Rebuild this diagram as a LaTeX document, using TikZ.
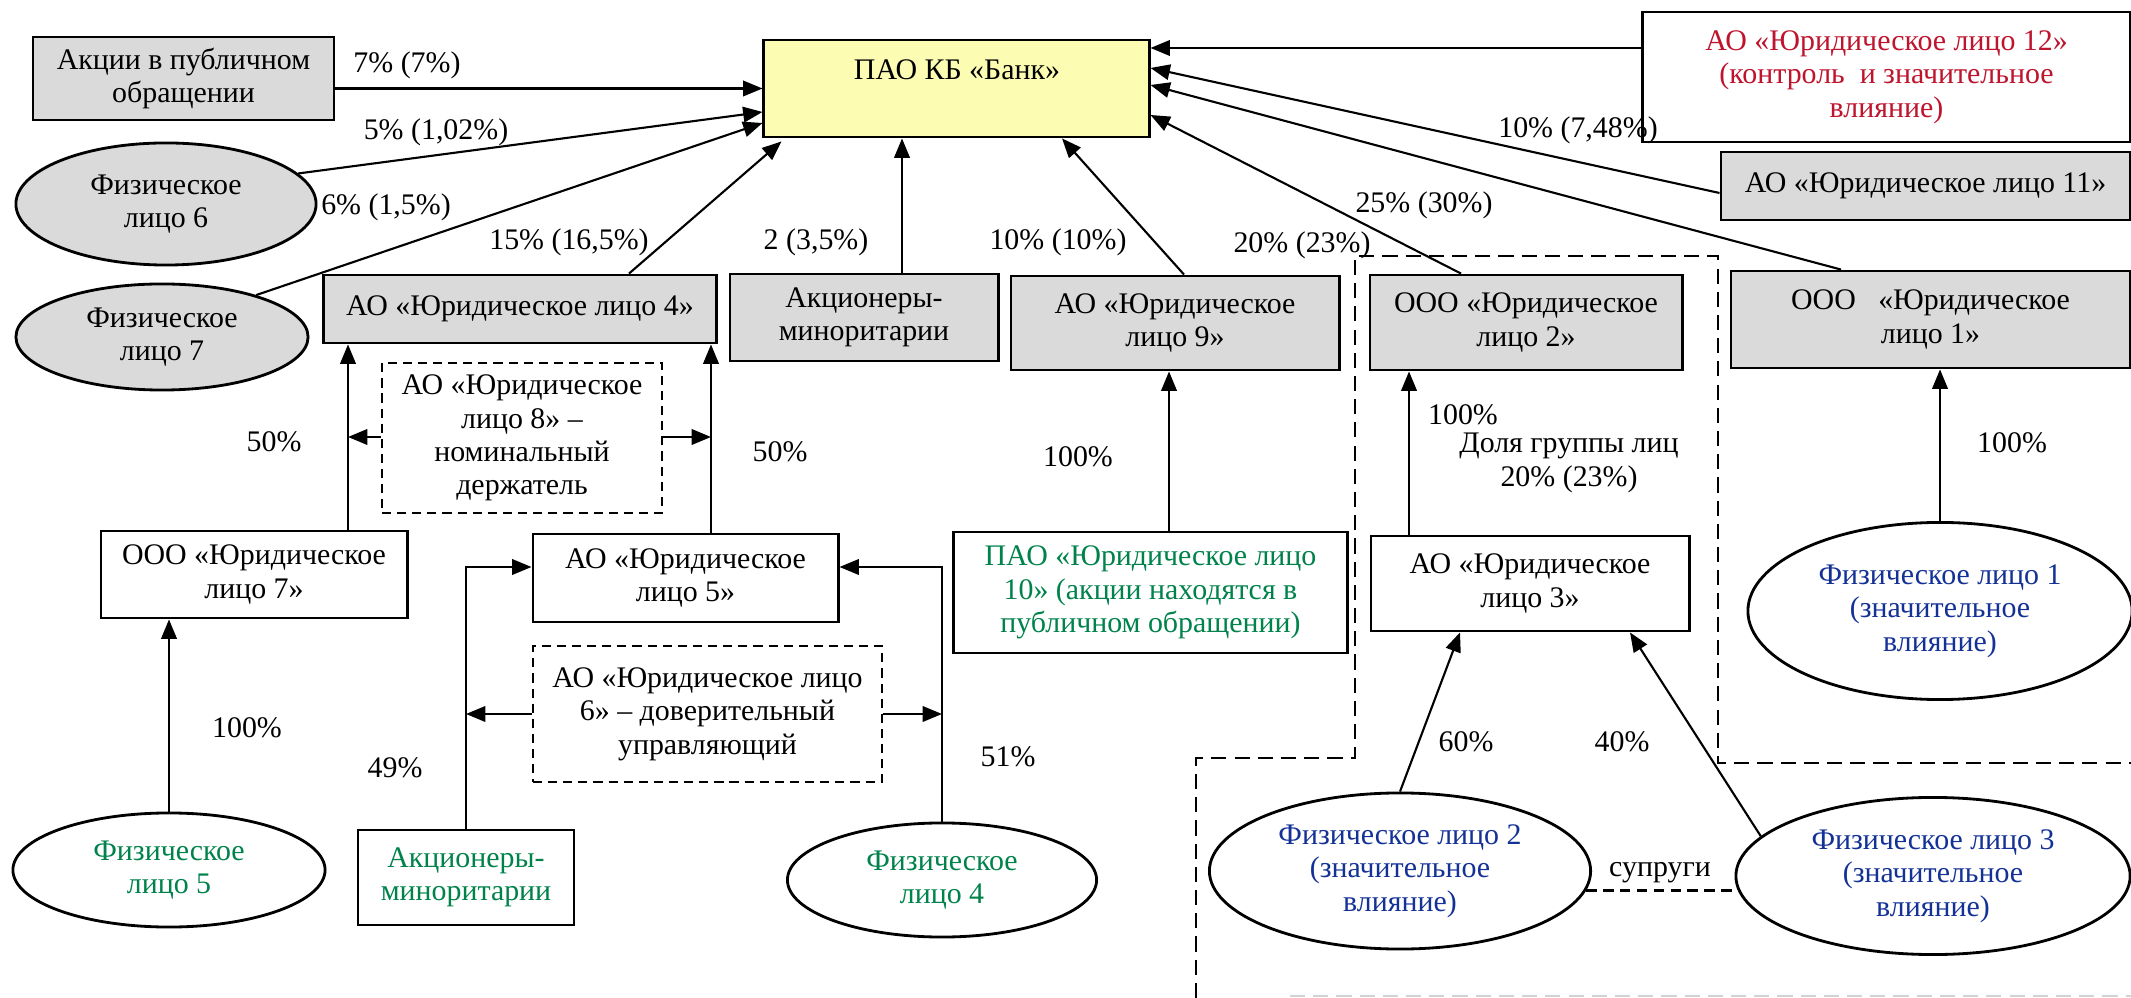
\documentclass[tikz,border=0pt]{standalone}
\usepackage{fontspec}
\setmainfont{Liberation Serif}
\usetikzlibrary{arrows.meta,shapes.geometric}
\definecolor{boxgray}{RGB}{218,218,218}
\definecolor{bankyellow}{RGB}{252,252,178}
\definecolor{txtred}{RGB}{190,20,45}
\definecolor{txtgreen}{RGB}{0,130,75}
\definecolor{txtblue}{RGB}{20,50,150}
\begin{document}
\begin{tikzpicture}[x=0.01cm,y=-0.01cm,
  every node/.style={font=\fontsize{8.5}{9.5}\selectfont, inner sep=1pt},
  gbox/.style={draw, line width=0.8pt, fill=boxgray, rectangle, align=center},
  wbox/.style={draw, line width=0.8pt, fill=white, rectangle, align=center},
  dbox/.style={draw, line width=0.7pt, dash pattern=on 2.6pt off 1.7pt, rectangle, align=center},
  gell/.style={draw, line width=0.8pt, fill=boxgray, ellipse, align=center, inner sep=0pt},
  well/.style={draw, line width=0.8pt, fill=white, ellipse, align=center, inner sep=0pt},
  arr/.style={line width=0.6pt, -{Triangle[length=5.5pt,width=4.4pt]}},
  conn/.style={line width=0.6pt},
  grp/.style={line width=0.7pt, dash pattern=on 4.3pt off 2.3pt},
  lbl/.style={align=center, inner sep=0pt},
]
\fill[white] (0,0) rectangle (2131,998);
\useasboundingbox (0,0) rectangle (2131,998);

% group outline
\draw[grp] (1196,998) -- (1196,758) -- (1355,758) -- (1355,256) -- (1718,256) -- (1718,763) -- (2131,763);
\draw[grp, gray!35] (1290,996) -- (2131,996);

% nodes
\node[gbox, minimum width=3.01cm, minimum height=0.83cm] (akcii) at (183.5,78.5) {Акции в публичном\\обращении};
\node[draw, line width=0.8pt, fill=bankyellow, minimum width=3.85cm, minimum height=0.97cm] (bank) at (956.5,88.5) {};
\node[lbl] (banktxt) at (957,70) {ПАО КБ «Банк»};
\node[wbox, text=txtred, minimum width=4.87cm, minimum height=1.30cm] (ao12) at (1886.5,77) {АО «Юридическое лицо 12»\\(контроль\ \ и значительное\\влияние)};
\node[gell, minimum width=3.0cm, minimum height=1.22cm] (fiz6) at (166,204) {Физическое\\лицо 6};
\node[gell, minimum width=2.92cm, minimum height=1.06cm] (fiz7) at (162,337) {Физическое\\лицо 7};
\node[gbox, minimum width=3.92cm, minimum height=0.68cm] (ao4) at (520,309) {АО «Юридическое лицо 4»};
\node[gbox, minimum width=2.68cm, minimum height=0.87cm] (akc) at (864,317.5) {Акционеры-\\миноритарии};
\node[gbox, minimum width=3.28cm, minimum height=0.94cm] (ao9) at (1175,323) {АО «Юридическое\\лицо 9»};
\node[gbox, minimum width=3.12cm, minimum height=0.95cm] (ooo2) at (1526,322.5) {ООО «Юридическое\\лицо 2»};
\node[gbox, minimum width=3.99cm, minimum height=0.97cm] (ooo1) at (1930.5,319.5) {ООО\ \ \ «Юридическое\\лицо 1»};
\node[gbox, minimum width=4.09cm, minimum height=0.68cm] (ao11) at (1925.5,186) {АО «Юридическое лицо 11»};
\node[dbox, minimum width=2.80cm, minimum height=1.50cm] (ao8) at (522,438) {АО «Юридическое\\лицо 8» –\\номинальный\\держатель};
\node[wbox, minimum width=3.06cm, minimum height=0.87cm] (ooo7) at (254,574.5) {ООО «Юридическое\\лицо 7»};
\node[wbox, minimum width=3.05cm, minimum height=0.88cm] (ao5) at (685.5,578) {АО «Юридическое\\лицо 5»};
\node[wbox, text=txtgreen, minimum width=3.93cm, minimum height=1.21cm] (pao10) at (1150.5,592.5) {ПАО «Юридическое лицо\\10» (акции находятся в\\публичном обращении)};
\node[wbox, minimum width=3.18cm, minimum height=0.95cm] (ao3) at (1530,583.5) {АО «Юридическое\\лицо 3»};
\node[well, text=txtblue, minimum width=3.84cm, minimum height=1.77cm] (fiz1) at (1940,611) {Физическое лицо 1\\(значительное\\влияние)};
\node[dbox, minimum width=3.49cm, minimum height=1.36cm] (ao6) at (707.5,714) {АО «Юридическое лицо\\6» – доверительный\\управляющий};
\node[well, text=txtgreen, minimum width=3.12cm, minimum height=1.14cm] (fiz5) at (169,870) {Физическое\\лицо 5};
\node[wbox, text=txtgreen, minimum width=2.16cm, minimum height=0.95cm] (akc2) at (466,877.5) {Акционеры-\\миноритарии};
\node[well, text=txtgreen, minimum width=3.09cm, minimum height=1.14cm] (fiz4) at (942,880) {Физическое\\лицо 4};
\node[well, text=txtblue, minimum width=3.81cm, minimum height=1.56cm] (fiz2) at (1400,871) {Физическое лицо 2\\(значительное\\влияние)};
\node[well, text=txtblue, minimum width=3.94cm, minimum height=1.57cm] (fiz3) at (1933,876) {Физическое лицо 3\\(значительное\\влияние)};

% junction coordinates
\coordinate (j4l) at (ao4.south -| 348,0);
\coordinate (j4r) at (ao4.south -| 711,0);
\coordinate (j8l) at (348,437);
\coordinate (j8r) at (711,437);
\coordinate (j5l) at (akc2.north |- 0,567);
\coordinate (j5r) at (fiz4.north |- 0,567);
\coordinate (j6l) at (akc2.north |- 0,714);
\coordinate (j6r) at (fiz4.north |- 0,714);

% connectors to bank
\draw[arr] (akcii.east |- bank.west) -- (bank.west);
\draw[arr] (fiz6.13) -- (bank.west |- 0,112);
\draw[arr] (fiz7.24) -- (bank.west |- 0,123);
\draw[arr] (ao4.north -| 629,0) -- ([shift={(19,3)}]bank.south west);
\draw[arr] (akc.north -| 902,0) -- (bank.south -| 902,0);
\draw[arr] (ao9.north -| 1184,0) -- (bank.south -| 1062,0);
\draw[arr] (ooo2.north -| 1461,0) -- (bank.east |- 0,115);
\draw[arr] (ooo1.north -| 1841,0) -- (bank.east |- 0,85);
\draw[arr] (ao11.west |- 0,193) -- (bank.east |- 0,68);
\draw[arr] (ao12.west |- 0,48) -- (bank.east |- 0,48);

% lower connectors
\draw[arr] (ooo7.north -| 348,0) -- (j4l);
\draw[arr] (ao5.north -| 711,0) -- (j4r);
\draw[arr] (ao8.west |- j8l) -- (j8l);
\draw[arr] (ao8.east |- j8r) -- (j8r);
\draw[arr] (fiz5.north) -- (ooo7.south -| fiz5.north);
\draw[arr] (akc2.north) -- (j5l) -- (ao5.west |- j5l);
\draw[arr] (fiz4.north) -- (j5r) -- (ao5.east |- j5r);
\draw[arr] (ao6.west |- j6l) -- (j6l);
\draw[arr] (ao6.east |- j6r) -- (j6r);
\draw[arr] (pao10.north -| 1169,0) -- (ao9.south -| 1169,0);
\draw[arr] (ao3.north -| 1409,0) -- (ooo2.south -| 1409,0);
\draw[arr] (fiz1.north) -- (ooo1.south -| fiz1.north);
\draw[arr] (fiz2.north) -- (ao3.south -| 1460,0);
\draw[arr] (fiz3.167) -- (ao3.south -| 1630,0);
\draw[line width=0.7pt, dash pattern=on 3pt off 1.8pt] (fiz2.-6) -- (fiz2.-6 -| fiz3.west);

% labels
\node[lbl] (t1) at (407,65) {7\% (7\%)};
\node[lbl] (t2) at (436,132) {5\% (1,02\%)};
\node[lbl] (t3) at (386,207) {6\% (1,5\%)};
\node[lbl] (t4) at (569,242) {15\% (16,5\%)};
\node[lbl] (t5) at (816,242) {2 (3,5\%)};
\node[lbl] (t6) at (1058,242) {10\% (10\%)};
\node[lbl] (t7) at (1302,245) {20\% (23\%)};
\node[lbl] (t8) at (1424,205) {25\% (30\%)};
\node[lbl] (t9) at (1578,130) {10\% (7,48\%)};
\node[lbl] (t10) at (274,442) {50\%};
\node[lbl] (t11) at (780,452) {50\%};
\node[lbl] (t12) at (1078,457) {100\%};
\node[lbl] (t13) at (1463,415) {100\%};
\node[lbl] (t14) at (1569,463) {Доля группы лиц\\20\% (23\%)};
\node[lbl] (t15) at (2012,443) {100\%};
\node[lbl] (t16) at (247,728) {100\%};
\node[lbl] (t17) at (395,768) {49\%};
\node[lbl] (t18) at (1008,757) {51\%};
\node[lbl] (t19) at (1466,742) {60\%};
\node[lbl] (t20) at (1622,742) {40\%};
\node[lbl] (t21) at (1660,873) {супруги};
\end{tikzpicture}
\end{document}
